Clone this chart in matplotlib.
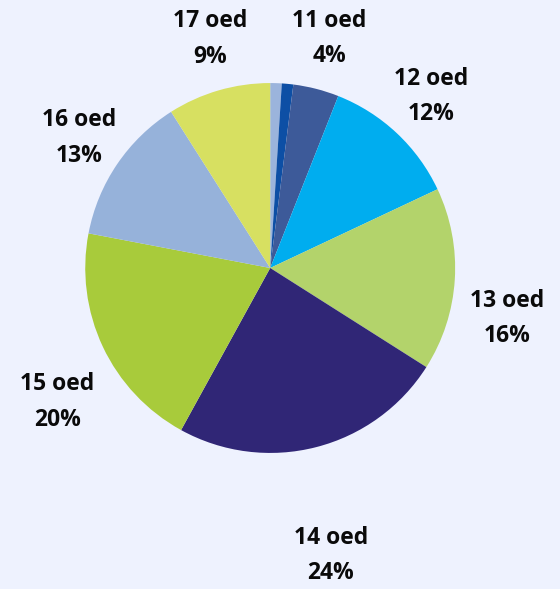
import numpy as np
import matplotlib.pyplot as plt

# slice data, clockwise from 12 o'clock
names = ['', '', '11 oed', '12 oed', '13 oed', '14 oed', '15 oed', '16 oed', '17 oed']
shares = [1, 1, 4, 12, 16, 24, 20, 13, 9]
colors = ['#9bb4dc', '#0d4fa5', '#3d5a99', '#00adef', '#b3d36b',
          '#302676', '#a8cb3b', '#96b2da', '#d7e061']

# label placement (radius factor, angle tweak in degrees)
lab_r = [0, 0, 1.28, 1.27, 1.31, 1.59, 1.36, 1.25, 1.28]
lab_da = [0, 0, 0, 0, -8.5, -2.5, 7, 0, -1.5]

bg = '#eef2fe'
fig = plt.figure(figsize=(5.6, 5.89), dpi=100, facecolor=bg)
ax = fig.add_axes([0.152, 0.231, 0.661, 0.628])
ax.set_facecolor(bg)

wedges, _ = ax.pie(shares, colors=colors, startangle=90, counterclock=False,
                   wedgeprops=dict(linewidth=0))
ax.set_xlim(-1, 1)
ax.set_ylim(-1, 1)
ax.set_aspect('equal')
ax.axis('off')

for w, n, s, r, da in zip(wedges, names, shares, lab_r, lab_da):
    if not n:
        continue
    a = np.deg2rad((w.theta1 + w.theta2) / 2 + da)
    ax.text(r * np.cos(a), r * np.sin(a), f'{n}\n{s}%', ha='center', va='center',
            fontsize=16.5, fontweight='bold', family='Open Sans', color='#0a0a0a',
            linespacing=1.62, clip_on=False)

fig.savefig('out.png', dpi=100, facecolor=bg)
